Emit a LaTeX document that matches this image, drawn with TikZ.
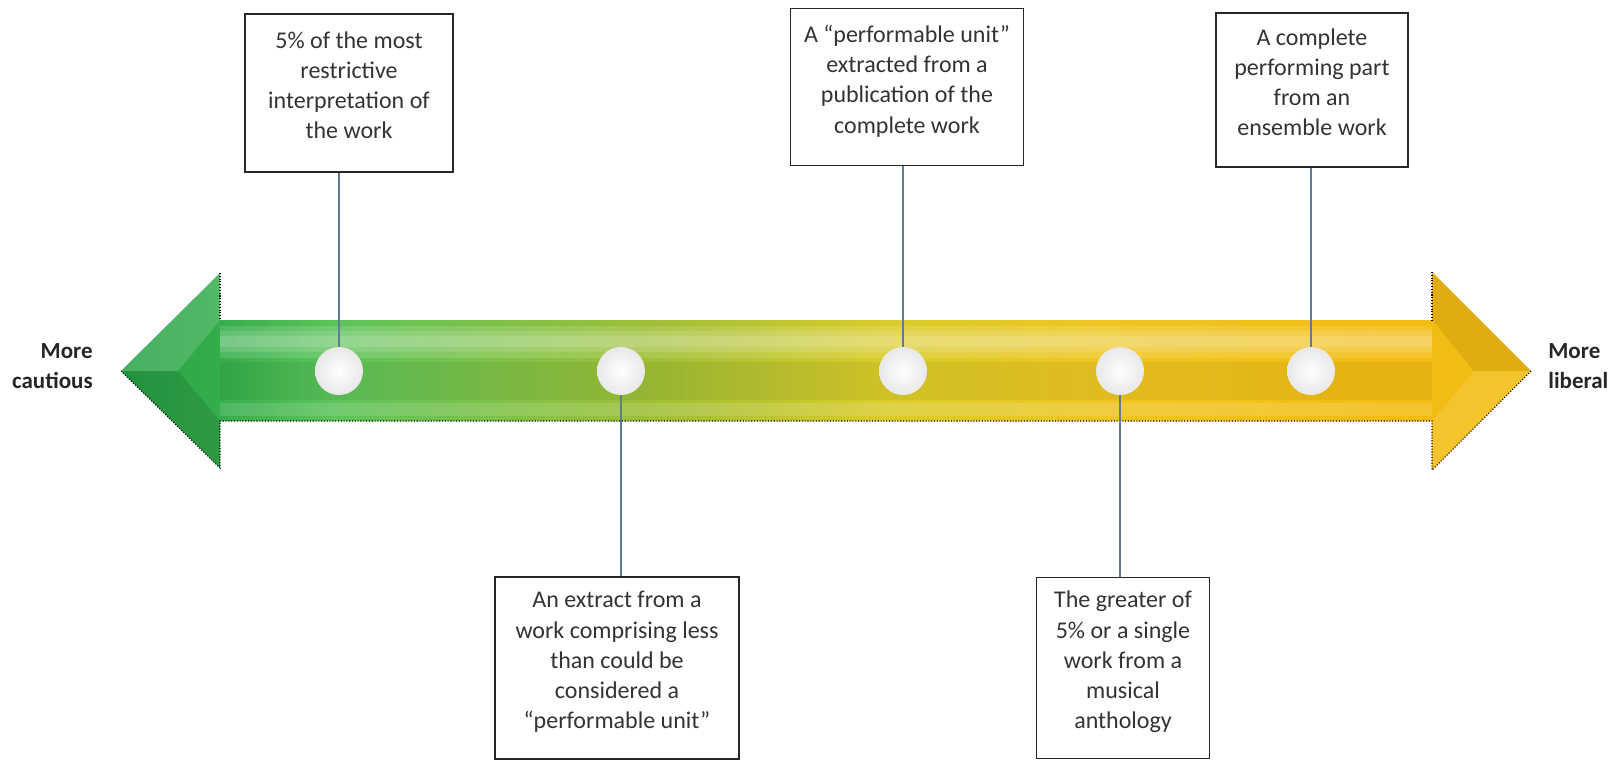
\documentclass[tikz,border=0pt]{standalone}
\usepackage{fontspec}
\setmainfont{Carlito}
\definecolor{tipgreen}{HTML}{27A246}
\definecolor{headgreen}{HTML}{34AD4B}
\definecolor{brightgreen}{HTML}{5CC45A}
\definecolor{olivegreen}{HTML}{A0BF35}
\definecolor{lemon}{HTML}{DACC2A}
\definecolor{gold}{HTML}{EEC622}
\definecolor{amber}{HTML}{F3BC12}
\definecolor{linkblue}{HTML}{5E7C92}
\pgfdeclarehorizontalshading{scaleshade}{100bp}{color(0bp)=(tipgreen);color(25bp)=(tipgreen);color(28.5bp)=(headgreen);color(32.5bp)=(brightgreen);color(44bp)=(olivegreen);color(52bp)=(lemon);color(60bp)=(gold);color(70bp)=(amber);color(75bp)=(amber);color(100bp)=(amber)}
\begin{document}
\begin{tikzpicture}[x=0.02cm,y=-0.02cm,
	box/.style={draw=black!85,line width=0.8pt,fill=white,text=black!80,align=center,inner sep=0pt,text depth=9pt,font=\fontsize{13.66}{17.2}\selectfont},
	dot/.style={circle,minimum size=0.96cm,inner sep=0pt,inner color=white,outer color=black!9},
	link/.style={draw=linkblue,line width=0.7pt},
	glow/.style={fill=white,opacity=0.13},
	side/.style={inner sep=0pt,text=black!85,font=\bfseries\fontsize{13.1}{17.07}\selectfont}]
	\useasboundingbox (0,0) rectangle (1620,761);
	\shade[shading=scaleshade] (121,371) -- (220,273) -- (220,320) -- (1432,320) -- (1432,272) -- (1531,371) -- (1432,470) -- (1432,421) -- (220,421) -- (220,468) -- cycle;
	\fill[glow] (220,326) rectangle (1432,358);
	\fill[glow] (220,331) rectangle (1432,352);
	\fill[glow] (220,336) rectangle (1432,347);
	\fill[black,opacity=0.05] (220,362) rectangle (1432,400);
	\fill[glow] (220,403) rectangle (1432,416);
	\fill[white,opacity=0.15] (121,371) -- (220,273) -- (220,320) -- (178,371) -- cycle;
	\fill[black,opacity=0.1] (121,371) -- (178,371) -- (220,421) -- (220,468) -- cycle;
	\fill[black,opacity=0.08] (1531,371) -- (1432,272) -- (1432,320) -- (1474,371) -- cycle;
	\fill[white,opacity=0.12] (1531,371) -- (1474,371) -- (1432,421) -- (1432,470) -- cycle;
	\draw[densely dotted,line width=0.6pt] (220,273) -- (220,320);
	\draw[densely dotted,line width=0.6pt] (1432,272) -- (1432,320);
	\draw[densely dotted,line width=0.6pt] (121,371) -- (220,468) -- (220,421) -- (1432,421) -- (1432,470) -- (1531,371);

	\node[dot] (d1) at (339,371) {};
	\node[dot] (d2) at (621,371) {};
	\node[dot] (d3) at (903,371) {};
	\node[dot] (d4) at (1120,371) {};
	\node[dot] (d5) at (1311,371) {};

	\node[box,minimum width=4.16cm,minimum height=3.16cm] (b1) at (349,93) {5\% of the most\\restrictive\\interpretation of\\the work};
	\node[box,minimum width=4.66cm,minimum height=3.14cm] (b2) at (907,87) {A “performable unit”\\extracted from a\\publication of the\\complete work};
	\node[box,minimum width=3.84cm,minimum height=3.08cm] (b3) at (1312,90) {A complete\\performing part\\from an\\ensemble work};
	\node[box,minimum width=4.88cm,minimum height=3.64cm] (b4) at (617,668) {An extract from a\\work comprising less\\than could be\\considered a\\“performable unit”};
	\node[box,minimum width=3.46cm,minimum height=3.62cm] (b5) at (1123,668) {The greater of\\5\% or a single\\work from a\\musical\\anthology};

	\draw[link] (d1.north) -- (d1 |- b1.south);
	\draw[link] (d3.north) -- (d3 |- b2.south);
	\draw[link] (d5.north) -- (d5 |- b3.south);
	\draw[link] (d2.south) -- (d2 |- b4.north);
	\draw[link] (d4.south) -- (d4 |- b5.north);

	\node[side,align=right,anchor=east] (cautious) at (93,366) {More\\cautious};
	\node[side,align=left,anchor=west] (liberal) at (1548,366) {More\\liberal};
\end{tikzpicture}
\end{document}
